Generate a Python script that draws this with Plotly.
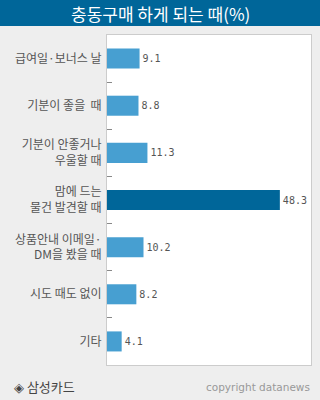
import plotly.graph_objects as go

categories = ["급여일·보너스 날", "기분이 좋을  때", "기분이 안좋거나<br>우울할 때",
              "맘에 드는<br>물건 발견할 때", "상품안내 이메일·<br>DM을 봤을 때",
              "시도 때도 없이", "기타"]
values = [9.1, 8.8, 11.3, 48.3, 10.2, 8.2, 4.1]
highlight = "맘에 드는<br>물건 발견할 때"
title_text = "충동구매 하게 되는 때(%)"
source_text = "◈ 삼성카드"
credit_text = "copyright datanews"

W, H = 320, 400
ML, MR, MT, MB = 107, 9, 35, 35
PW, PH = W - ML - MR, H - MT - MB

LIGHT = "#479fd1"
DARK = "#006699"
colors = [DARK if c == highlight else LIGHT for c in categories]

fig = go.Figure(go.Bar(
    x=values, y=categories, orientation="h",
    marker=dict(color=colors, line=dict(width=0)),
    text=[f"{v:.1f}" for v in values], textposition="outside",
    textfont=dict(family="DejaVu Sans Mono", size=10, color="#555555"),
    cliponaxis=False,
))

fig.update_layout(
    width=W, height=H,
    margin=dict(l=ML, r=MR, t=MT, b=MB, pad=0),
    paper_bgcolor="#eeeeee", plot_bgcolor="#ffffff",
    bargap=0.575, showlegend=False,
    font=dict(family="Noto Sans CJK KR", size=12, color="#555555"),
    xaxis=dict(range=[0, 57], showticklabels=False, showgrid=False, zeroline=False,
               ticks="", showline=True, mirror=True, linecolor="#cccccc", linewidth=1,
               fixedrange=True),
    yaxis=dict(autorange="reversed", type="category", showgrid=False, zeroline=False,
               ticks="inside", tickson="boundaries", ticklen=5, tickwidth=1,
               tickcolor="#888888", showline=True, mirror=True, linecolor="#cccccc",
               linewidth=1, ticklabelstandoff=2,
               tickfont=dict(family="Noto Sans CJK KR", size=12, color="#555555")),
)

# title bar
fig.add_shape(type="rect", xref="paper", yref="paper",
              x0=-ML / PW, x1=1 + MR / PW, y0=1 + (MT - 26) / PH, y1=1 + MT / PH,
              fillcolor=DARK, line=dict(width=0), layer="above")
fig.add_annotation(text=title_text, xref="paper", yref="paper",
                   x=(W / 2 - ML) / PW, y=1 + (MT - 13) / PH, xanchor="center", yanchor="middle",
                   showarrow=False, font=dict(family="Noto Sans CJK KR", size=17, color="#ffffff"))
fig.add_annotation(text=source_text, xref="paper", yref="paper",
                   x=(12 - ML) / PW, y=-(386 - MT - PH) / PH, xanchor="left", yanchor="middle",
                   showarrow=False, font=dict(family="Noto Sans CJK KR", size=13, color="#444444"))
fig.add_annotation(text=credit_text, xref="paper", yref="paper",
                   x=(312 - ML) / PW, y=-(387 - MT - PH) / PH, xanchor="right", yanchor="middle",
                   showarrow=False, font=dict(family="DejaVu Sans", size=10.5, color="#999999"))

fig.write_html("out.html", config=dict(displayModeBar=False))
